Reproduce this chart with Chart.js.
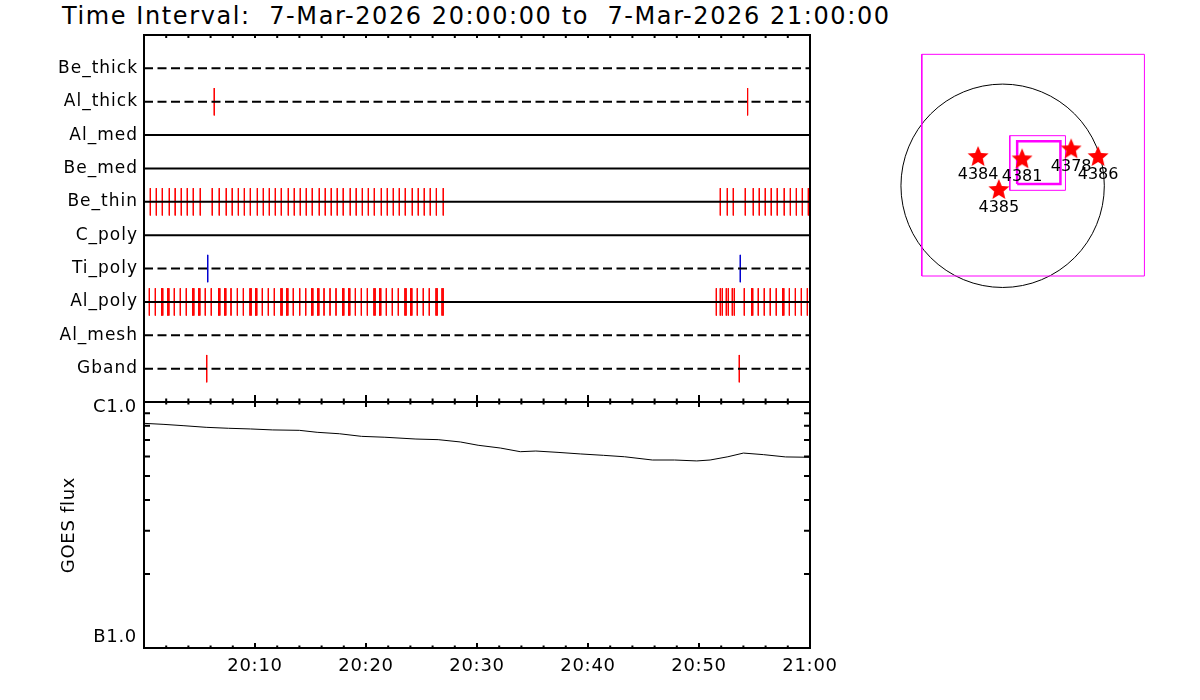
<!DOCTYPE html>
<html>
<head>
<meta charset="utf-8">
<script src="https://cdn.jsdelivr.net/npm/chart.js@4"></script>
<style>
body { margin: 0; background: #fff; width: 1200px; height: 700px; position: relative; overflow: hidden; font-family: 'DejaVu Sans'; }
canvas { position: absolute; }
#title { position: absolute; left: 62px; top: 2px; font-size: 24px; line-height: 28px; letter-spacing: 1.6px; white-space: pre; color: #000; }
</style>
</head>
<body>
<div id="title">Time Interval:  7-Mar-2026 20:00:00 to  7-Mar-2026 21:00:00</div>
<canvas id="events" width="830" height="410" style="left:0;top:0"></canvas>
<canvas id="goes" width="850" height="305" style="left:0;top:395px"></canvas>
<canvas id="map" width="300" height="260" style="left:880px;top:40px"></canvas>
<script>
// Rows of the event panel, top to bottom
const ROWS = ['Be_thick', 'Al_thick', 'Al_med', 'Be_med', 'Be_thin', 'C_poly', 'Ti_poly', 'Al_poly', 'Al_mesh', 'Gband']
const DASHED = ['Be_thick', 'Al_thick', 'Ti_poly', 'Al_mesh', 'Gband']

// Event times, minutes after 20:00
const AL_THICK = [6.33, 54.38]
const TI_POLY = [5.74, 53.72]
const GBAND = [5.65, 53.63]
const BE_THIN = [
	0.57, 1.11, 1.65, 2.28, 2.81, 3.36, 3.90, 4.44, 5.07, 6.15, 6.78, 7.41, 7.95, 8.50, 9.04, 9.58,
	10.21, 10.75, 11.29, 11.83, 12.37, 13.00, 13.54, 14.08, 14.62, 15.16, 15.79, 16.33, 16.87, 17.41,
	17.95, 18.58, 19.12, 19.67, 20.21, 20.75, 21.38, 21.92, 22.46, 23.00, 23.54, 24.17, 24.71, 25.25,
	25.79, 26.34, 26.96,
	51.92, 52.55, 53.09, 54.17, 54.89, 55.43, 55.97, 56.51, 57.05, 57.68, 58.23, 58.77, 59.31, 59.85
]
const AL_POLY = [
	0.48, 1.02, 1.59, 1.69, 2.14, 2.24, 2.73, 3.27, 3.81, 4.39, 4.49, 4.93, 5.03, 5.52, 6.06, 6.73,
	6.83, 7.27, 7.37, 7.84, 8.41, 8.95, 9.55, 9.65, 10.06, 10.16, 10.66, 11.20, 11.74, 12.34, 12.44,
	12.86, 12.96, 13.45, 14.03, 14.57, 15.11, 15.21, 15.65, 15.75, 16.22, 16.76, 17.30, 17.90, 18.00,
	18.44, 18.54, 19.04, 19.58, 20.12, 20.72, 20.82, 21.23, 21.33, 21.83, 22.37, 22.91, 23.51, 23.61,
	24.03, 24.13, 24.62, 25.16, 25.70, 26.31, 26.41, 26.85, 26.95,
	51.56, 51.92, 52.10, 52.46, 52.64, 53.00, 53.18, 54.08, 54.74, 54.84, 55.34, 55.88, 56.42, 56.96,
	57.54, 57.64, 58.14, 58.68, 59.22, 59.76
]

// GOES flux
const GOES_T = [0, 1.8, 3.6, 5.6, 7.6, 9.6, 11.6, 14.0, 15.6, 17.6, 19.6, 21.7, 24.5, 26.5, 28.5, 30.1,
	32.1, 33.9, 35.3, 37.3, 39.3, 41.4, 43.3, 45.8, 47.8, 49.8, 51.0, 52.6, 54.0, 55.8, 57.8, 60]
const GOES_FLUX = [8.19e-7, 8.11e-7, 8.01e-7, 7.89e-7, 7.82e-7, 7.77e-7, 7.70e-7, 7.67e-7, 7.53e-7,
	7.43e-7, 7.25e-7, 7.19e-7, 7.07e-7, 7.03e-7, 6.88e-7, 6.67e-7, 6.50e-7, 6.28e-7, 6.32e-7, 6.24e-7,
	6.15e-7, 6.07e-7, 5.99e-7, 5.81e-7, 5.81e-7, 5.76e-7, 5.81e-7, 5.99e-7, 6.20e-7, 6.11e-7, 5.98e-7, 5.96e-7]
const FLUX_TICKS = [1e-7, 1e-6]
const FLUX_LABELS = ['B1.0', 'C1.0']

// Map, arcsec
const SUN_R = 966
const REGIONS = ['4384', '4381', '4385', '4378', '4386']
const REGION_X = [-233, 185, -36, 651, 907]
const REGION_Y = [283, 261, -30, 356, 283]
const FOV_X = [-768, 1347]
const FOV_Y = [-857, 1249]
const BOX1_X = [68, 597]
const BOX1_Y = [-43, 476]
const BOX2_X = [138, 549]
const BOX2_Y = [17, 423]

Chart.defaults.font.family = 'DejaVu Sans'
Chart.defaults.color = '#000'

const RED = '#ff0000'
const BLUE = '#0000d0'

function rowLine(name) {
	const r = ROWS.indexOf(name) + 1
	return {
		data: [{ x: 0, y: r }, { x: 60, y: r }],
		borderColor: '#000', borderWidth: 2,
		borderDash: DASHED.includes(name) ? [9, 4.5] : [],
		pointRadius: 0, showLine: true
	}
}

function eventTicks(name, times, color) {
	const r = ROWS.indexOf(name) + 1
	const data = []
	times.forEach(t => data.push({ x: t, y: r - 0.41 }, { x: t, y: r + 0.41 }, { x: t, y: null }))
	return { data, borderColor: color, borderWidth: 1, pointRadius: 0, showLine: true, spanGaps: false }
}

// fixed axis size, no label overhang padding
function fixWidth(w) {
	return s => { s.width = w; s.paddingTop = 0; s.paddingBottom = 0 }
}

// frame with inward ticks, as IDL draws it
function framePlugin(cfg) {
	return {
		id: 'frame',
		afterDatasetsDraw(chart) {
			const { ctx, chartArea: a, scales } = chart
			ctx.save()
			ctx.strokeStyle = '#000'
			ctx.lineWidth = 2
			ctx.strokeRect(a.left, a.top, a.right - a.left, a.bottom - a.top)
			ctx.beginPath()
			for (let m = 0; m <= 60; m += 2) {
				const px = scales.x.getPixelForValue(m)
				const major = m % 10 === 0
				const lt = major ? cfg.topMajor : cfg.topMinor
				const lb = major ? cfg.botMajor : cfg.botMinor
				ctx.moveTo(px, a.top); ctx.lineTo(px, a.top + lt)
				ctx.moveTo(px, a.bottom); ctx.lineTo(px, a.bottom - lb)
			}
			if (cfg.logTicks) {
				for (let k = 2; k <= 9; k++) {
					const py = scales.y.getPixelForValue(k * 1e-7)
					ctx.moveTo(a.left, py); ctx.lineTo(a.left + 6, py)
					ctx.moveTo(a.right, py); ctx.lineTo(a.right - 6, py)
				}
			}
			ctx.stroke()
			ctx.restore()
		}
	}
}

function spacing(px) {
	return { id: 'spacing', beforeDraw(chart) { chart.ctx.letterSpacing = px } }
}

// Event panel
const eventSets = ROWS.map(rowLine).concat([
	eventTicks('Al_thick', AL_THICK, RED),
	eventTicks('Be_thin', BE_THIN, RED),
	eventTicks('Ti_poly', TI_POLY, BLUE),
	eventTicks('Al_poly', AL_POLY, RED),
	eventTicks('Gband', GBAND, RED)
])

new Chart('events', {
	type: 'scatter',
	data: { datasets: eventSets },
	options: {
		responsive: false, animation: false, events: [],
		layout: { autoPadding: false, padding: { top: 35, bottom: 8, left: 0, right: 20 } },
		plugins: { legend: { display: false }, tooltip: { enabled: false } },
		scales: {
			x: { type: 'linear', min: 0, max: 60, display: false },
			y: {
				type: 'linear', min: 0, max: 11, reverse: true,
				afterFit: fixWidth(144),
				grid: { display: false, drawTicks: false },
				border: { display: false },
				ticks: { stepSize: 1, autoSkip: false, padding: 6, font: { size: 17 }, callback: v => ROWS[v - 1] || '' }
			}
		}
	},
	plugins: [spacing('1px'), framePlugin({ topMajor: 3, topMinor: 3, botMajor: 7, botMinor: 3.5 })]
})

// GOES panel
const fluxLabels = {
	id: 'fluxLabels',
	afterDraw(chart) {
		const { ctx, scales } = chart
		ctx.save()
		ctx.font = '18px "DejaVu Sans"'
		ctx.fillStyle = '#000'
		ctx.textAlign = 'right'
		ctx.textBaseline = 'middle'
		FLUX_TICKS.forEach((v, i) => {
			const py = scales.y.getPixelForValue(v) + (i === 0 ? -11 : 5)
			ctx.fillText(FLUX_LABELS[i], 137, py)
		})
		ctx.restore()
	}
}

new Chart('goes', {
	type: 'scatter',
	data: {
		datasets: [{
			data: GOES_T.map((t, i) => ({ x: t, y: GOES_FLUX[i] })),
			borderColor: '#000', borderWidth: 1, pointRadius: 0, showLine: true
		}]
	},
	options: {
		responsive: false, animation: false, events: [],
		layout: { autoPadding: false, padding: { top: 7, bottom: 0, left: 0, right: 40 } },
		plugins: { legend: { display: false }, tooltip: { enabled: false } },
		scales: {
			x: {
				type: 'linear', min: 0, max: 60,
				afterFit(s) { s.height = 52; s.paddingLeft = 0; s.paddingRight = 0 },
				grid: { display: false, drawTicks: false },
				border: { display: false },
				ticks: {
					stepSize: 10, autoSkip: false, maxRotation: 0, padding: 8, font: { size: 18 },
					callback: v => v === 0 ? '' : (v === 60 ? '21:00' : '20:' + v)
				}
			},
			y: {
				type: 'logarithmic', min: 1e-7, max: 1e-6,
				afterFit: fixWidth(144),
				grid: { display: false, drawTicks: false },
				border: { display: false },
				ticks: { display: false },
				title: { display: true, text: 'GOES flux', font: { size: 18 }, padding: { top: 59, bottom: 0 } }
			}
		}
	},
	plugins: [spacing('0.7px'), framePlugin({ topMajor: 5, topMinor: 2.5, botMajor: 5, botMinor: 2.5, logTicks: true }), fluxLabels]
})

// Map panel
function starImage(size, color) {
	const c = document.createElement('canvas')
	c.width = c.height = size
	const g = c.getContext('2d')
	const R = size / 2, r = R * 0.45
	g.beginPath()
	for (let i = 0; i < 10; i++) {
		const a = -Math.PI / 2 + i * Math.PI / 5
		const rad = i % 2 ? r : R
		g.lineTo(R + rad * Math.cos(a), R + 1 + rad * Math.sin(a))
	}
	g.closePath()
	g.fillStyle = color
	g.fill()
	return c
}

function box(xs, ys, width) {
	return {
		data: [{ x: xs[0], y: ys[0] }, { x: xs[1], y: ys[0] }, { x: xs[1], y: ys[1] }, { x: xs[0], y: ys[1] }, { x: xs[0], y: ys[0] }],
		borderColor: '#ff00ff', borderWidth: width, pointRadius: 0, showLine: true
	}
}

const mapDecor = {
	id: 'mapDecor',
	beforeDatasetsDraw(chart) {
		const { ctx, scales } = chart
		const cx = scales.x.getPixelForValue(0)
		const cy = scales.y.getPixelForValue(0)
		const r = scales.x.getPixelForValue(SUN_R) - cx
		ctx.save()
		ctx.strokeStyle = '#000'
		ctx.lineWidth = 1
		ctx.beginPath()
		ctx.arc(cx, cy, r, 0, Math.PI * 2)
		ctx.stroke()
		ctx.restore()
	},
	afterDatasetsDraw(chart) {
		const { ctx } = chart
		const meta = chart.getDatasetMeta(0)
		ctx.save()
		ctx.font = '16px "DejaVu Sans"'
		ctx.fillStyle = '#000'
		ctx.textAlign = 'center'
		ctx.textBaseline = 'middle'
		meta.data.forEach((pt, i) => ctx.fillText(REGIONS[i], pt.x, pt.y + 19))
		ctx.restore()
	}
}

new Chart('map', {
	type: 'scatter',
	data: {
		datasets: [
			{
				data: REGION_X.map((x, i) => ({ x, y: REGION_Y[i] })),
				pointStyle: starImage(22, RED), pointRadius: 11
			},
			box(BOX2_X, BOX2_Y, 2.5),
			box(BOX1_X, BOX1_Y, 1),
			box(FOV_X, FOV_Y, 1)
		]
	},
	options: {
		responsive: false, animation: false, events: [],
		layout: { autoPadding: false, padding: 0 },
		plugins: { legend: { display: false }, tooltip: { enabled: false } },
		scales: {
			x: { type: 'linear', min: -1165, max: 1685, display: false },
			y: { type: 'linear', min: -1085, max: 1385, display: false }
		}
	},
	plugins: [mapDecor]
})
</script>
</body>
</html>
